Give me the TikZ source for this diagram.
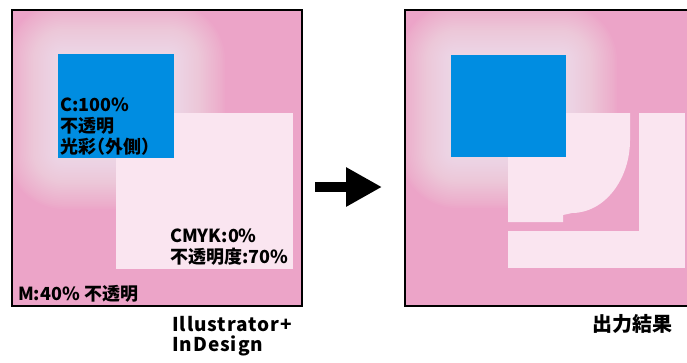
\documentclass[tikz,border=0pt]{standalone}
\usepackage{fontspec}
\setmainfont{Noto Sans CJK JP}
\newfontfamily\labelfont[LetterSpace=5]{Noto Sans CJK JP}
\usetikzlibrary{arrows.meta}
\definecolor{bgpink}{RGB}{236,164,200}
\definecolor{ovwhite}{RGB}{250,229,240}
\definecolor{cyanblue}{RGB}{0,141,225}
\newcommand{\halfparen}[1]{{\addfontfeature{RawFeature=+halt}#1}}
\tikzset{
  panel/.style={draw=black, line width=1.6pt},
  lbl/.style={anchor=base west, inner sep=0pt, font=\fontsize{18}{21}\selectfont\bfseries},
  biglbl/.style={anchor=base west, inner sep=0pt, font=\labelfont\fontsize{19}{21}\selectfont\bfseries},
  ttllbl/.style={anchor=base west, inner sep=0pt, font=\fontsize{20}{21}\selectfont\bfseries},
  glowlayer/.style={fill=white, opacity=0.035}
}
\begin{document}
\begin{tikzpicture}[x=1pt,y=-1pt]
\useasboundingbox (0,0) rectangle (687,362);
\fill[white] (0,0) rectangle (687,362);
% ---------- left panel ----------
\fill[bgpink] (12,10) rectangle (302,306);
\begin{scope}
  \clip (12,10) rectangle (302,306);
  \foreach \i in {1,...,30} {
    \fill[glowlayer, rounded corners=1.7*\i+6] (58-1.7*\i,54-1.7*\i) rectangle (174+1.7*\i,158+1.7*\i);
  }
\end{scope}
\fill[ovwhite] (116,113) rectangle (293,269);
\fill[cyanblue] (58,54) rectangle (174,158);
\draw[panel] (12,10) rectangle (302,306);
\node[lbl] (c1) at (60,111) {C:100\%};
\node[lbl] (c2) at (60,132) {不透明};
\node[lbl] (c3) at (60,153) {光彩\halfparen{（}外側\halfparen{）}};
\node[lbl] (k1) at (170,242) {CMYK:0\%};
\node[lbl] (k2) at (170,263) {不透明度:70\%};
\node[lbl] (m1) at (18,300) {M:40\% 不透明};
\node[biglbl] (b1) at (172,331) {Illustrator+};
\node[biglbl] (b2) at (172,351) {InDesign};
% ---------- arrow ----------
\coordinate (a1) at (315,187);
\coordinate (a2) at (382,187);
\draw[line width=10pt, -{Triangle[length=36pt,width=37pt]}] (a1) -- (a2);
% ---------- right panel ----------
\fill[bgpink] (405,10) rectangle (690,306);
\begin{scope}
  \clip (405,10) rectangle (690,306);
  \foreach \i in {1,...,30} {
    \fill[glowlayer, rounded corners=1.7*\i+6] (451-1.7*\i,55-1.7*\i) rectangle (566+1.7*\i,157+1.7*\i);
  }
\end{scope}
\fill[ovwhite] (639,113) rectangle (685,268);
\fill[ovwhite] (508,231) rectangle (685,268);
\fill[ovwhite] (508,113) -- (630,113) -- (630,140)
  .. controls (630,180) and (604,213) .. (572,213)
  -- (563,215) -- (563,222) -- (508,222) -- cycle;
\fill[cyanblue] (451,55) rectangle (566,157);
\draw[panel] (405,10) rectangle (690,306);
\node[ttllbl] (r1) at (592,331) {出力結果};
\end{tikzpicture}
\end{document}
